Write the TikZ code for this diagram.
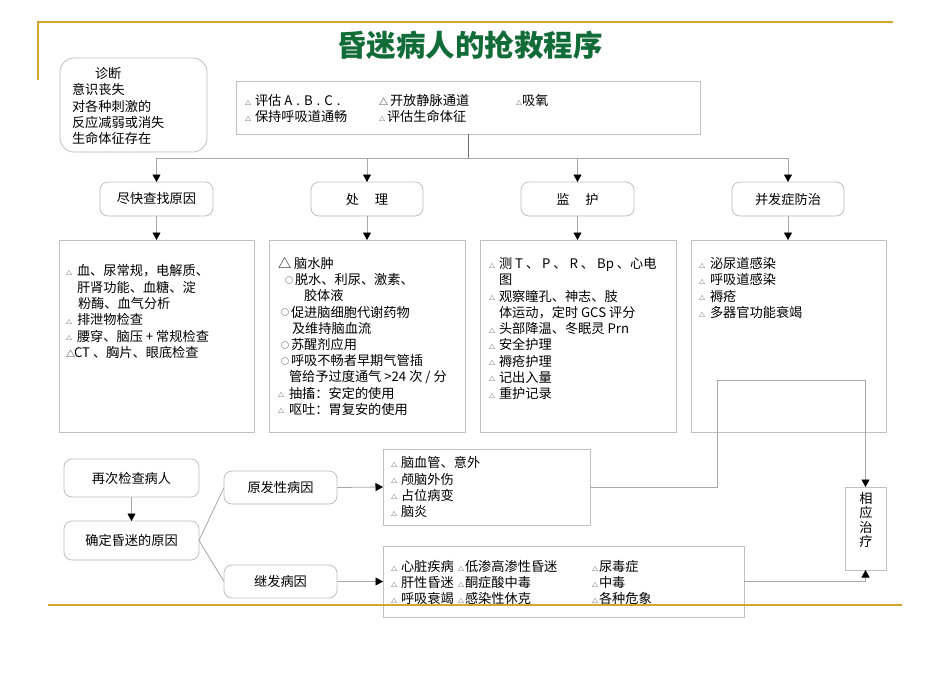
\documentclass[tikz,border=0pt]{standalone}
\usepackage{fontspec}
\setmainfont{Noto Sans CJK SC}
\usetikzlibrary{arrows.meta}
\definecolor{gold}{RGB}{212,166,45}
\definecolor{ttlgreen}{RGB}{18,108,56}
\definecolor{bord}{RGB}{192,192,192}
\definecolor{conn}{RGB}{168,168,168}
\definecolor{darkconn}{RGB}{110,110,110}
\newcommand\tri[1][10pt]{\makebox[#1][l]{\raisebox{0.5pt}{\fontsize{6}{6}\selectfont △}}}
\newcommand\midtri[1][10pt]{\makebox[#1][l]{\fontsize{9}{9}\selectfont △}}
\newcommand\cirk{\makebox[10pt][l]{\raisebox{1.5pt}{\fontsize{8}{8}\selectfont ○}}}
\newcommand\wsp{\hspace{4pt}}
\newcommand\fs[1]{\fontsize{13.2}{#1}\selectfont}
\begin{document}
\begin{tikzpicture}[x=1pt,y=-1pt,
  every node/.style={inner sep=0pt, outer sep=0pt},
  txt/.style={anchor=north west, align=left, font=\fs{16.3}},
  sbox/.style={draw=bord, line width=0.8pt},
  rbox/.style={draw=bord, line width=0.8pt, rounded corners=8pt, font=\fs{15}},
  conn/.style={draw=conn, line width=0.8pt},
  arr/.style={conn, -{Triangle[width=8pt,length=7.5pt,color=black]}}
  ]
\useasboundingbox (0,0) rectangle (950,673);
\fill[white] (0,0) rectangle (950,673);

% title
\node[font=\fontsize{29.5}{29.5}\selectfont\bfseries, text=ttlgreen] (title) at (470,45) {昏迷病人的抢救程序};

% diagnosis
\node[sbox, rounded corners=14pt, minimum width=147pt, minimum height=94pt] (diag) at (133.5,105) {};
\node[txt, font=\fs{16.25}] (diagt) at (72,67.5) {\hspace*{23pt}诊断\\意识丧失\\对各种刺激的\\反应减弱或消失\\生命体征存在};

% top box
\node[sbox, minimum width=464pt, minimum height=53pt] (top) at (468,107.5) {};
\node[txt] (topa) at (245,94.5) {\tri 评估 A\wsp.\wsp B\wsp.\wsp C\wsp.\\\tri 保持呼吸道通畅};
\node[txt] (topb) at (379,94.5) {\midtri[11pt]开放静脉通道\\\tri[8pt]评估生命体征};
\node[txt] (topc) at (516,94.5) {\tri[6pt]吸氧};

% second row
\node[rbox, minimum width=113pt, minimum height=34pt] (b1) at (156.5,199) {尽快查找原因};
\node[rbox, minimum width=112pt, minimum height=34pt] (b2) at (367,199) {处\hspace{1.2em}理};
\node[rbox, minimum width=113pt, minimum height=34pt] (b3) at (577.5,199) {监\hspace{1.2em}护};
\node[rbox, minimum width=112pt, minimum height=34pt] (b4) at (788,199) {并发症防治};

\coordinate (hub) at (468,158);
\draw[draw=darkconn, line width=0.8pt] (top.south) -- (hub);
\draw[arr] (hub) -| (b1.north);
\draw[arr] (hub) -| (b2.north);
\draw[arr] (hub) -| (b3.north);
\draw[arr] (hub) -| (b4.north);

% detail boxes
\node[sbox, minimum width=195pt, minimum height=192pt] (d1) at (156.5,336) {};
\node[sbox, minimum width=196pt, minimum height=192pt] (d2) at (367,336) {};
\node[sbox, minimum width=196pt, minimum height=192pt] (d3) at (578,336) {};
\node[sbox, minimum width=195pt, minimum height=192pt] (d4) at (788.5,336) {};
\draw[arr] (b1.south) -- (b1.south |- d1.north);
\draw[arr] (b2.south) -- (b2.south |- d2.north);
\draw[arr] (b3.south) -- (b3.south |- d3.north);
\draw[arr] (b4.south) -- (b4.south |- d4.north);

\node[txt, font=\fs{16.4}] (d1t) at (66,264.5) {\tri[11pt]血、尿常规，电解质、\\
\hspace*{11pt}肝肾功能、血糖、淀\\
\hspace*{12pt}粉酶、血气分析\\
\tri[11pt]排泄物检查\\
\tri[11pt]腰穿、脑压 + 常规检查\\
\midtri[8pt]CT 、胸片、眼底检查};

\node[txt, font=\fs{16.2}] (d2t) at (278,257.5) {△\hspace{3pt}脑水肿\\
\hspace*{7pt}\cirk 脱水、利尿、激素、\\
\hspace*{26pt}胶体液\\
\hspace*{3pt}\cirk 促进脑细胞代谢药物\\
\hspace*{14pt}及维持脑血流\\
\hspace*{3pt}\cirk 苏醒剂应用\\
\hspace*{3pt}\cirk 呼吸不畅者早期气管插\\
\hspace*{11pt}管给予过度通气 >24 次 / 分\\
\tri[11pt]抽搐：安定的使用\\
\tri[11pt]呕吐：胃复安的使用};

\node[txt, font=\fs{16.25}] (d3t) at (489,257.5) {\tri 测 T 、 P 、 R 、 Bp 、心电\\
\hspace*{10pt}图\\
\tri 观察瞳孔、神志、肢\\
\hspace*{10pt}体运动，定时 GCS 评分\\
\tri 头部降温、冬眠灵 Prn\\
\tri 安全护理\\
\tri 褥疮护理\\
\tri 记出入量\\
\tri 重护记录};

\node[txt, font=\fs{16.3}] (d4t) at (699,257.5) {\tri[11pt]泌尿道感染\\
\tri[11pt]呼吸道感染\\
\tri[11pt]褥疮\\
\tri[11pt]多器官功能衰竭};

% bottom section
\node[rbox, minimum width=135pt, minimum height=38pt] (again) at (131.5,478) {再次检查病人};
\node[rbox, minimum width=135pt, minimum height=39pt] (determ) at (131.5,540.5) {确定昏迷的原因};
\node[rbox, minimum width=113pt, minimum height=33pt] (prim) at (280.5,487.5) {原发性病因};
\node[rbox, minimum width=113pt, minimum height=33pt] (sec) at (280.5,581.5) {继发病因};
\node[sbox, minimum width=207pt, minimum height=76pt] (plist) at (486.5,487) {};
\node[sbox, minimum width=361pt, minimum height=71pt] (slist) at (563.5,581.5) {};
\node[sbox, minimum width=41pt, minimum height=83pt] (resp) at (865.5,528.5) {};
\node[align=center, font=\fs{14.5}] (respt) at (866,520) {相\\应\\治\\疗};

\node[txt, font=\fs{16.3}] (plistt) at (391,456.5) {\tri 脑血管、意外\\\tri 颅脑外伤\\\tri 占位病变\\\tri 脑炎};
\node[txt, font=\fs{16}] (slista) at (391,560.5) {\tri 心脏疾病\\\tri 肝性昏迷\\\tri 呼吸衰竭};
\node[txt, font=\fs{16}] (slistb) at (458,560.5) {\tri[7pt]低渗高渗性昏迷\\\tri[7pt]酮症酸中毒\\\tri[7pt]感染性休克};
\node[txt, font=\fs{16}] (slistc) at (592,560.5) {\tri[7pt]尿毒症\\\tri[7pt]中毒\\\tri[7pt]各种危象};

\draw[arr] (again.south) -- (determ.north);
\draw[conn] (determ.east) -- (prim.west);
\draw[conn] (determ.east) -- (sec.west);
\draw[arr] (prim.east) -- (plist.west);
\draw[arr] (sec.east) -- (slist.west);
\coordinate (bend) at (717,380);
\draw[arr] (plist.east) -| (bend) -| (resp.north);
\draw[arr] (slist.east) -| (resp.south);

% gold rules
\draw[gold, line width=2pt] (38,80) -- (38,22) -- (893,22);
\draw[gold, line width=2pt] (48,605) -- (902,605);
\end{tikzpicture}
\end{document}
